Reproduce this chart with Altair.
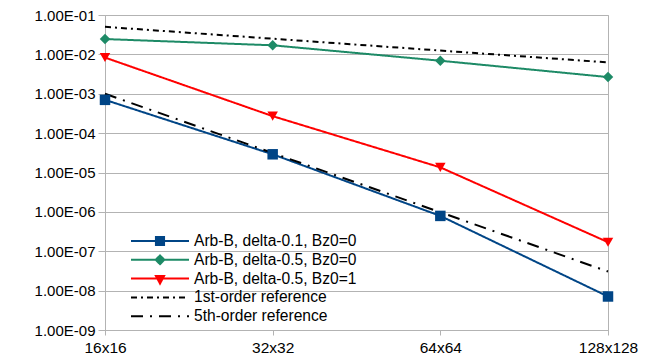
import altair as alt
import pandas as pd

categories = ["16x16", "32x32", "64x64", "128x128"]
series_names = [
    "Arb-B, delta-0.1, Bz0=0",
    "Arb-B, delta-0.5, Bz0=0",
    "Arb-B, delta-0.5, Bz0=1",
    "1st-order reference",
    "5th-order reference",
]
blue_vals = [7.0e-4, 2.9e-5, 7.9e-7, 7.1e-9]
green_vals = [2.45e-2, 1.7e-2, 6.9e-3, 2.65e-3]
red_vals = [8.3e-3, 2.7e-4, 1.35e-5, 1.7e-7]
first_ref = [5.0e-2, 2.5e-2, 1.25e-2, 6.25e-3]
fifth_ref = [1.0e-3, 3.125e-5, 9.77e-7, 3.05e-8]
y_ticks = [1e-9, 1e-8, 1e-7, 1e-6, 1e-5, 1e-4, 1e-3, 1e-2, 1e-1]

colors = ["#004586", "#1d8a66", "#ff0000", "#000000", "#000000"]
dashes = [[1, 0], [1, 0], [1, 0], [6, 4, 2, 4], [12, 7, 2, 7]]
marker_shapes = ["square", "diamond", "triangle-down"]
legend_paths = [
    "M-1,0H1M-0.14,-0.14H0.14V0.14H-0.14Z",
    "M-1,0H1M0,-0.15L0.15,0L0,0.15L-0.15,0Z",
    "M-1,0H1M-0.14,-0.09H0.14L0,0.17Z",
    "M-1,0H1",
    "M-1,0H1",
]

all_series = [blue_vals, green_vals, red_vals, first_ref, fifth_ref]
rows = []
for name, vals in zip(series_names, all_series):
    for i, (c, v) in enumerate(zip(categories, vals)):
        rows.append({"size_label": c, "idx": i, "series": name, "error": v})
df = pd.DataFrame(rows)

font = "Liberation Sans"

x_enc = alt.X(
    "size_label:N",
    sort=categories,
    scale=alt.Scale(type="point", padding=0),
    axis=alt.Axis(
        title=None, labelAngle=0, grid=False, tickSize=5, labelPadding=5,
        domainColor="#b3b3b3", tickColor="#b3b3b3", labelFontSize=15.5,
        labelFont=font, labelColor="#000000", labelOverlap=False, labelBound=False,
    ),
)
y_enc = alt.Y(
    "error:Q",
    scale=alt.Scale(type="log", domain=[1e-9, 1e-1], nice=False),
    axis=alt.Axis(
        title=None, values=y_ticks, grid=True, gridColor="#b3b3b3",
        tickSize=7, labelPadding=3, domainColor="#b3b3b3", tickColor="#b3b3b3",
        labelFontSize=15, labelFont=font, labelColor="#000000",
        labelExpr="'1.00E' + (datum.value < 1 ? '-' : '+') + (abs(round(log(datum.value)/LN10)) < 10 ? '0' : '') + abs(round(log(datum.value)/LN10))",
    ),
)

legend = alt.Legend(
    title=None,
    orient="none",
    legendX=25,
    legendY=218,
    symbolSize=3364,
    symbolStrokeWidth=2,
    symbolOpacity=1,
    clipHeight=16,
    rowPadding=1.8,
    labelOffset=4,
    labelFontSize=15.6,
    labelFont=font,
    labelColor="#000000",
    labelLimit=400,
    padding=0,
)

color_scale = alt.Scale(domain=series_names, range=colors)
dash_scale = alt.Scale(domain=series_names, range=dashes)

legend_layer = alt.Chart(df).mark_point(filled=True, opacity=0).encode(
    x=x_enc,
    y=y_enc,
    color=alt.Color("series:N", scale=color_scale, legend=legend),
    stroke=alt.Stroke("series:N", scale=alt.Scale(domain=series_names, range=colors), legend=legend),
    shape=alt.Shape("series:N", scale=alt.Scale(domain=series_names, range=legend_paths), legend=legend),
    strokeDash=alt.StrokeDash("series:N", scale=dash_scale, legend=legend),
)

lines = alt.Chart(df).mark_line(strokeWidth=2).encode(
    x=x_enc,
    y=y_enc,
    color=alt.Color("series:N", scale=color_scale, legend=None),
    strokeDash=alt.StrokeDash("series:N", scale=dash_scale, legend=None),
    order=alt.Order("idx:Q"),
)

point_layers = []
for name, shp in zip(series_names[:3], marker_shapes):
    point_layers.append(
        alt.Chart(df).transform_filter(alt.datum.series == name)
        .mark_point(filled=True, size=110, opacity=1, shape=shp)
        .encode(
            x=x_enc,
            y=y_enc,
            color=alt.Color("series:N", scale=color_scale, legend=None),
        )
    )

chart = alt.layer(legend_layer, lines, *point_layers).properties(
    width=503,
    height=315,
    autosize=alt.AutoSizeParams(type="none"),
    padding={"left": 97, "top": 7, "right": 32, "bottom": 24},
).configure_view(stroke="#b3b3b3")

chart.save("out.html", embed_options={"renderer": "svg", "actions": False})
